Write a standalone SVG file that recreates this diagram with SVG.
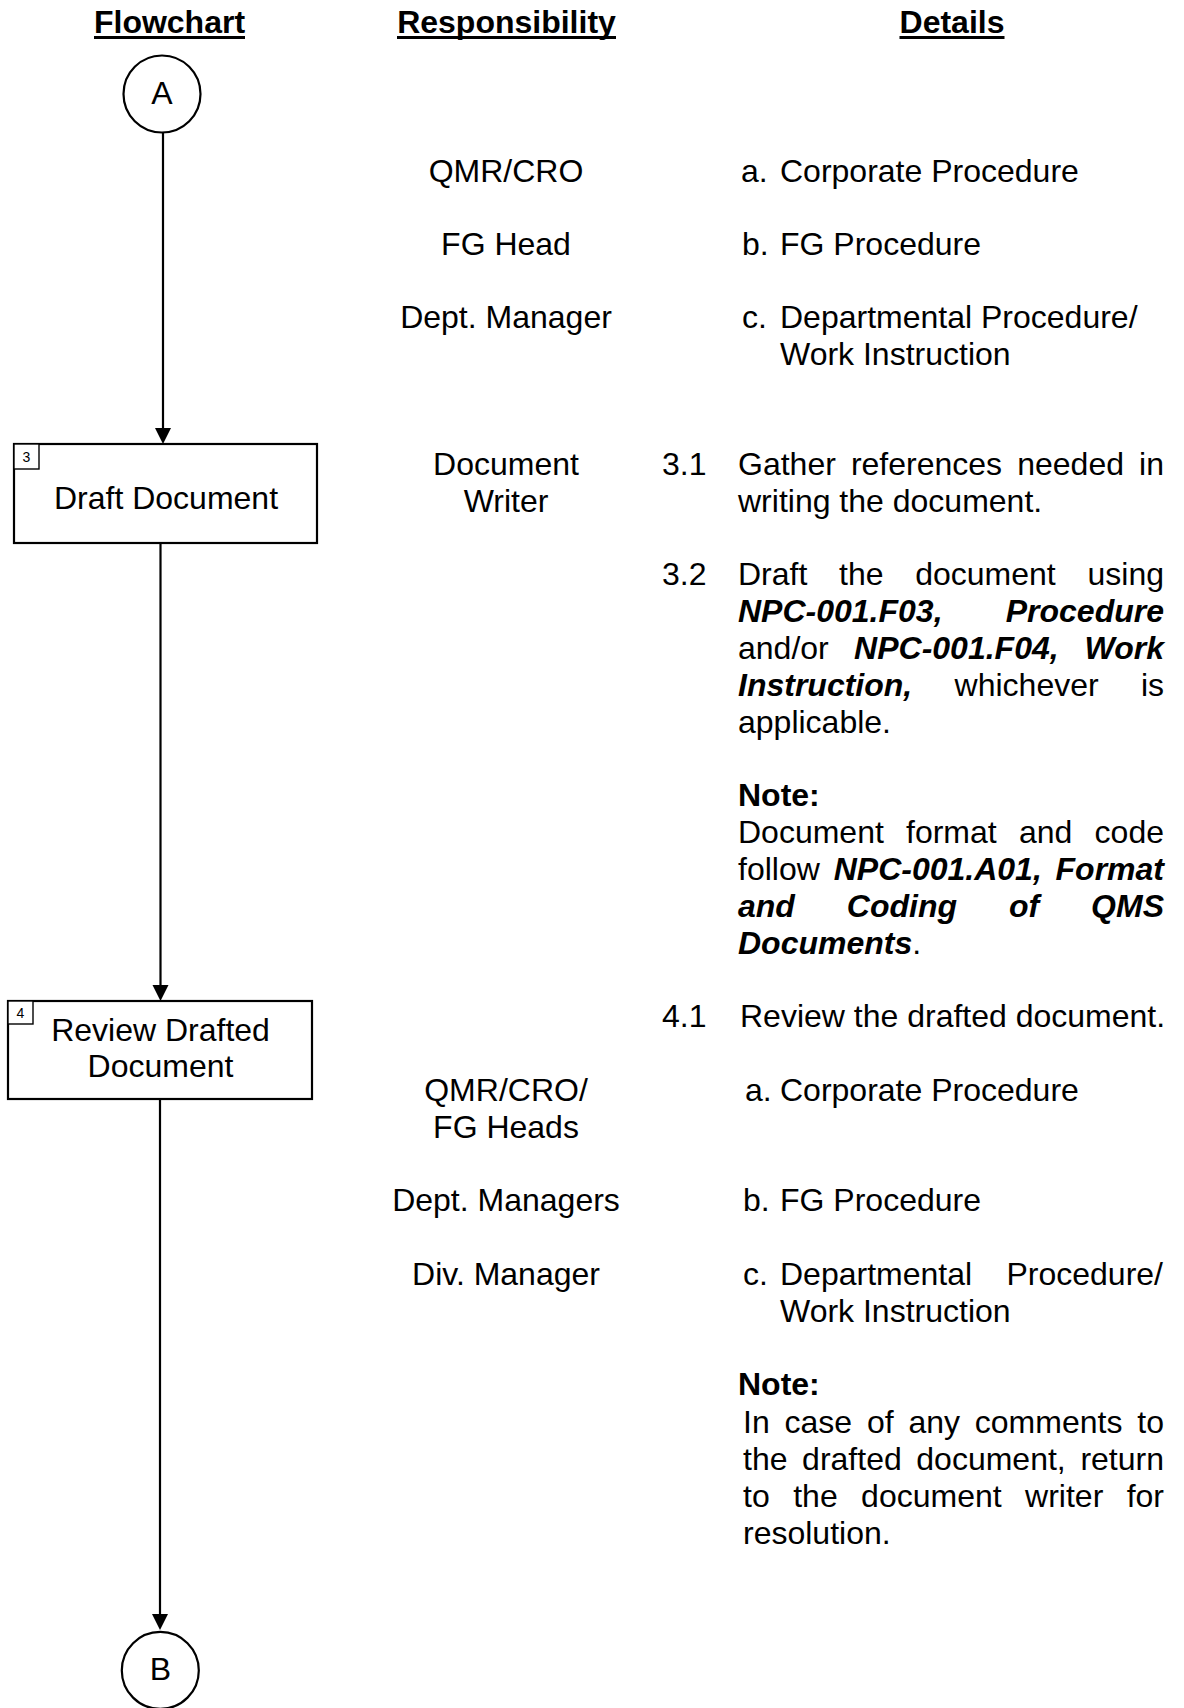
<svg xmlns="http://www.w3.org/2000/svg" width="1184" height="1708" viewBox="0 0 1184 1708">
  <style>
    text { font-family: "Liberation Sans", Arial, sans-serif; fill: #000; }
    .hdr { font-size: 32px; font-weight: bold; text-anchor: middle; }
    .t { font-size: 32px; }
    .c { text-anchor: middle; }
    .e { text-anchor: end; }
    .bi { font-weight: bold; font-style: italic; }
    .b { font-weight: bold; }
    .num { font-size: 14px; text-anchor: middle; }
    .shape { fill: #fff; stroke: #000; stroke-width: 2.2; }
    .tag { fill: #fff; stroke: #000; stroke-width: 1.4; }
    .wire { fill: none; stroke: #000; stroke-width: 2.2; }
    .head { fill: #000; stroke: none; }
  </style>
  <defs>
    <!-- downward arrowhead, tip at the origin -->
    <path id="arrowhead" class="head" d="M0,0 L-8,-16 L8,-16 Z"/>
  </defs>

  <rect width="1184" height="1708" fill="#fff"/>

  <!-- Column headings -->
  <g id="headings">
    <text class="hdr" x="169.5" y="33">Flowchart</text>
    <rect x="94" y="36" width="151" height="3" fill="#000"/>
    <text class="hdr" x="506.5" y="33">Responsibility</text>
    <rect x="397" y="36" width="219" height="3" fill="#000"/>
    <text class="hdr" x="952" y="33">Details</text>
    <rect x="899.5" y="36" width="105" height="3" fill="#000"/>
  </g>

  <!-- Connectors -->
  <g id="connectors">
    <line class="wire" x1="163" y1="133" x2="163" y2="430"/>
    <use href="#arrowhead" x="163" y="444"/>
    <line class="wire" x1="160.5" y1="543" x2="160.5" y2="987"/>
    <use href="#arrowhead" x="160.5" y="1001"/>
    <line class="wire" x1="160" y1="1099" x2="160" y2="1616"/>
    <use href="#arrowhead" x="160" y="1630"/>
  </g>

  <!-- Flowchart nodes -->
  <g id="node-a">
    <circle class="shape" cx="162" cy="94" r="38.5"/>
    <text class="t c" x="162" y="104">A</text>
  </g>

  <g id="node-3">
    <rect class="shape" x="14" y="444" width="303" height="99"/>
    <rect class="tag" x="14" y="444" width="25" height="25"/>
    <text class="num" x="26.5" y="461.5">3</text>
    <text class="t c" x="166" y="509">Draft Document</text>
  </g>

  <g id="node-4">
    <rect class="shape" x="8" y="1001" width="304" height="98"/>
    <rect class="tag" x="8" y="1001" width="25" height="23"/>
    <text class="num" x="20.5" y="1018">4</text>
    <text class="t c" x="160.5" y="1041">Review Drafted</text>
    <text class="t c" x="160.5" y="1077">Document</text>
  </g>

  <g id="node-b">
    <circle class="shape" cx="160.3" cy="1670.4" r="38.5"/>
    <text class="t c" x="160.3" y="1680">B</text>
  </g>

  <!-- Responsibility column -->
  <g id="responsibility">
    <text class="t c" x="506" y="182">QMR/CRO</text>
    <text class="t c" x="506" y="255">FG Head</text>
    <text class="t c" x="506" y="328">Dept. Manager</text>
    <text class="t c" x="506" y="475">Document</text>
    <text class="t c" x="506" y="512">Writer</text>
    <text class="t c" x="506" y="1101">QMR/CRO/</text>
    <text class="t c" x="506" y="1138">FG Heads</text>
    <text class="t c" x="506" y="1211">Dept. Managers</text>
    <text class="t c" x="506" y="1285">Div. Manager</text>
  </g>

  <!-- Details column -->
  <g id="details">
    <!-- document levels -->
    <text class="t" x="741" y="182">a.</text>
    <text class="t" x="780" y="182">Corporate Procedure</text>
    <text class="t" x="742" y="255">b.</text>
    <text class="t" x="780" y="255">FG Procedure</text>
    <text class="t" x="742" y="328">c.</text>
    <text class="t" x="780" y="328">Departmental Procedure/</text>
    <text class="t" x="780" y="365">Work Instruction</text>

    <!-- step 3.1 -->
    <text class="t" x="662" y="475">3.1</text>
    <text class="t" y="475"><tspan x="738">Gather</tspan><tspan x="850.9">references</tspan><tspan x="1017.2">needed</tspan><tspan x="1164" class="e">in</tspan></text>
    <text class="t" x="738" y="512">writing the document.</text>

    <!-- step 3.2 -->
    <text class="t" x="662" y="585">3.2</text>
    <text class="t" y="585"><tspan x="738">Draft</tspan><tspan x="839">the</tspan><tspan x="915.2">document</tspan><tspan x="1164" class="e">using</tspan></text>
    <text class="t bi" y="622"><tspan x="738">NPC-001.F03,</tspan><tspan x="1164" class="e">Procedure</tspan></text>
    <text class="t" y="659"><tspan x="738">and/or</tspan><tspan x="854.1" class="bi">NPC-001.F04,</tspan><tspan x="1164" class="e bi">Work</tspan></text>
    <text class="t" y="696"><tspan x="738" class="bi">Instruction,</tspan><tspan x="954.6">whichever</tspan><tspan x="1164" class="e">is</tspan></text>
    <text class="t" x="738" y="733">applicable.</text>

    <!-- note on format -->
    <text class="t b" x="738" y="806">Note:</text>
    <text class="t" y="843"><tspan x="738">Document</tspan><tspan x="906">format</tspan><tspan x="1018.9">and</tspan><tspan x="1164" class="e">code</tspan></text>
    <text class="t" y="880"><tspan x="738">follow</tspan><tspan x="833.7" class="bi">NPC-001.A01,</tspan><tspan x="1164" class="e bi">Format</tspan></text>
    <text class="t bi" y="917"><tspan x="738">and</tspan><tspan x="846.8">Coding</tspan><tspan x="1008.9">of</tspan><tspan x="1164" class="e">QMS</tspan></text>
    <text class="t" x="738" y="954"><tspan class="bi">Documents</tspan>.</text>

    <!-- step 4.1 -->
    <text class="t" x="662" y="1027">4.1</text>
    <text class="t" x="740" y="1027">Review the drafted document.</text>

    <text class="t" x="745" y="1101">a.</text>
    <text class="t" x="780" y="1101">Corporate Procedure</text>
    <text class="t" x="743" y="1211">b.</text>
    <text class="t" x="780" y="1211">FG Procedure</text>
    <text class="t" x="743" y="1285">c.</text>
    <text class="t" y="1285"><tspan x="780">Departmental</tspan><tspan x="1163" class="e">Procedure/</tspan></text>
    <text class="t" x="780" y="1322">Work Instruction</text>

    <!-- note on comments -->
    <text class="t b" x="738" y="1395">Note:</text>
    <text class="t" y="1433"><tspan x="743">In</tspan><tspan x="784.5">case</tspan><tspan x="866.9">of</tspan><tspan x="908.4">any</tspan><tspan x="974.8">comments</tspan><tspan x="1164" class="e">to</tspan></text>
    <text class="t" y="1470"><tspan x="743">the</tspan><tspan x="802.1">drafted</tspan><tspan x="916.3">document,</tspan><tspan x="1164" class="e">return</tspan></text>
    <text class="t" y="1507"><tspan x="743">to</tspan><tspan x="793.2">the</tspan><tspan x="861.1">document</tspan><tspan x="1025.1">writer</tspan><tspan x="1164" class="e">for</tspan></text>
    <text class="t" x="743" y="1544">resolution.</text>
  </g>
</svg>
